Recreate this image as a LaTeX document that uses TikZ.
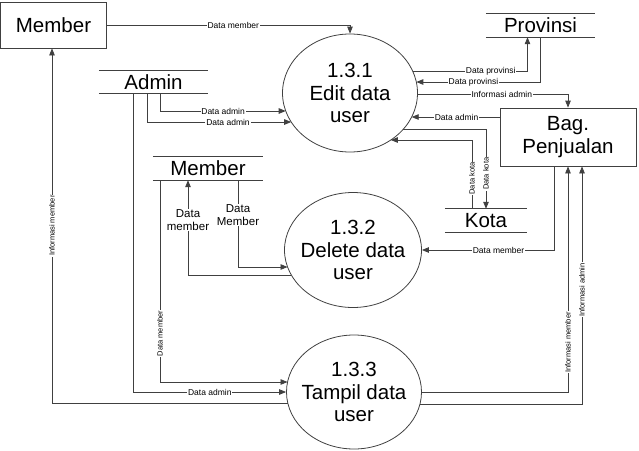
\documentclass[tikz,border=0pt]{standalone}
\usepackage{fontspec}
\setmainfont{Liberation Sans}
\usetikzlibrary{arrows.meta,calc,shapes.geometric}
\begin{document}
\begin{tikzpicture}[x=1pt,y=-1pt,
  line/.style={draw=black!75, line width=0.8pt},
  flow/.style={line, -{Triangle[length=7pt,width=5.5pt]}},
  proc/.style={ellipse, draw=black!75, line width=0.8pt, inner sep=0pt},
  ptext/.style={align=center, inner sep=0pt, font=\fontsize{20.5}{22.5}\selectfont},
  ext/.style={rectangle, draw=black!75, line width=0.8pt, inner sep=0pt, align=center, font=\fontsize{20.5}{22.5}\selectfont},
  store/.style={rectangle, inner sep=0pt, minimum height=23pt, font=\fontsize{20.5}{22.5}\selectfont},
  lbl/.style={fill=white, inner sep=0.8pt, font=\fontsize{8.5}{9}\selectfont},
  vlbl/.style={lbl, rotate=90, font=\fontsize{7.5}{8}\selectfont},
  lbltwo/.style={fill=white, inner sep=1pt, align=center, font=\fontsize{11.5}{12.5}\selectfont},
]
\useasboundingbox (0,0) rectangle (639,450);

% external entities
\node[ext, minimum width=106pt, minimum height=46pt] (mbox) at (53.5,25) {Member};
\node[ext, minimum width=136pt, minimum height=58pt] (bag) at (568,137) {Bag.\\Penjualan};

% data stores
\node[store, minimum width=109pt] (admin) at (153.5,82) {Admin};
\node[store, minimum width=110pt] (mstore) at (208,168.5) {Member};
\node[store, minimum width=109pt] (prov) at (540.5,25.5) {Provinsi};
\node[store, minimum width=82pt] (kota) at (486,220.5) {Kota};
\foreach \s in {admin,mstore,prov,kota}{
  \draw[line] (\s.north west) -- (\s.north east) (\s.south west) -- (\s.south east);
}

% processes
\node[proc, minimum width=135pt, minimum height=118pt] (e1) at (350,93) {};
\node[ptext] (e1t) at (e1) {1.3.1\\Edit data\\user};
\node[proc, minimum width=137pt, minimum height=115pt] (e2) at (353,250) {};
\node[ptext] (e2t) at (e2) {1.3.2\\Delete data\\user};
\node[proc, minimum width=135pt, minimum height=114pt] (e3) at (354,392) {};
\node[ptext] (e3t) at (e3) {1.3.3\\Tampil data\\user};

% border points on the ellipses
\coordinate (p2)  at ($(e1)+({-67.5*sqrt(1-(18/59)^2)},18)$);
\coordinate (p3)  at ($(e1)+({-67.5*sqrt(1-(29/59)^2)},29)$);
\coordinate (p9)  at ($(e1)+({67.5*sqrt(1-(22/59)^2)},-22)$);
\coordinate (p10) at ($(e1)+({67.5*sqrt(1-(11/59)^2)},-11)$);
\coordinate (p11) at ($(e1)+({67.5*sqrt(1-(1/59)^2)},1)$);
\coordinate (p12) at ($(e1)+({67.5*sqrt(1-(24/59)^2)},24)$);
\coordinate (p13) at ($(e1)+({67.5*sqrt(1-(36/59)^2)},36)$);
\coordinate (p14) at ($(e1)+({67.5*sqrt(1-(47/59)^2)},47)$);
\coordinate (p7)  at ($(e2)+({-68.5*sqrt(1-(25/57.5)^2)},25)$);
\coordinate (p8)  at ($(e2)+({-68.5*sqrt(1-(17/57.5)^2)},17)$);
\coordinate (p5)  at ($(e3)+({-67.5*sqrt(1-(10/57)^2)},-10)$);
\coordinate (p6)  at ($(e3)+({-67.5*sqrt(1-(11/57)^2)},11)$);
\coordinate (p17) at ($(e3)+({67.5*sqrt(1-(12/57)^2)},12)$);

% flows
\draw[flow] (mbox.east) -| (e1.north) node[lbl,pos=0.26]{Data member};
\draw[flow] ([xshift=7pt]admin.south) |- (p2) node[lbl,pos=0.75]{Data admin};
\draw[flow] ([xshift=-6pt]admin.south) |- (p3) node[lbl,pos=0.78]{Data admin};
\draw[flow] ([xshift=-20pt]admin.south) |- (e3.west) node[lbl,pos=0.75]{Data admin};
\draw[flow] ([xshift=-48pt]mstore.south) |- (p5) node[vlbl,pos=0.38]{Data member};
\draw[flow] (p6) -| ([xshift=-1.5pt]mbox.south) node[vlbl,pos=0.75]{Informasi member};
\draw[flow] (p7) -| ([xshift=-20pt]mstore.south) node[lbltwo,pos=0.79]{Data\\member};
\draw[flow] ([xshift=30pt]mstore.south) |- (p8) node[lbltwo,pos=0.2]{Data\\Member};
\draw[flow] (p9) -| ([xshift=-13pt]prov.south) node[lbl,pos=0.34]{Data provinsi};
\draw[flow] (prov.south) |- (p10) node[lbl,pos=0.77]{Data provinsi};
\draw[flow] (p11) -| (bag.north) node[lbl,pos=0.28]{Informasi admin};
\draw[flow] ([yshift=20pt]bag.west) -- (p12) node[lbl,pos=0.49]{Data admin};
\draw[flow] (p13) -| (kota.north) node[vlbl,pos=0.78]{Data kota};
\draw[flow] ([xshift=-14pt]kota.north) |- (p14) node[vlbl,pos=0.22]{Data kota};
\draw[flow] ([xshift=-14pt]bag.south) |- (e2.east) node[lbl,pos=0.71]{Data member};
\draw[flow] (e3.east) -| (bag.south) node[vlbl,pos=0.61]{Informasi member};
\draw[flow] (p17) -| ([xshift=14pt]bag.south) node[vlbl,pos=0.74]{Informasi admin};
\end{tikzpicture}
\end{document}
